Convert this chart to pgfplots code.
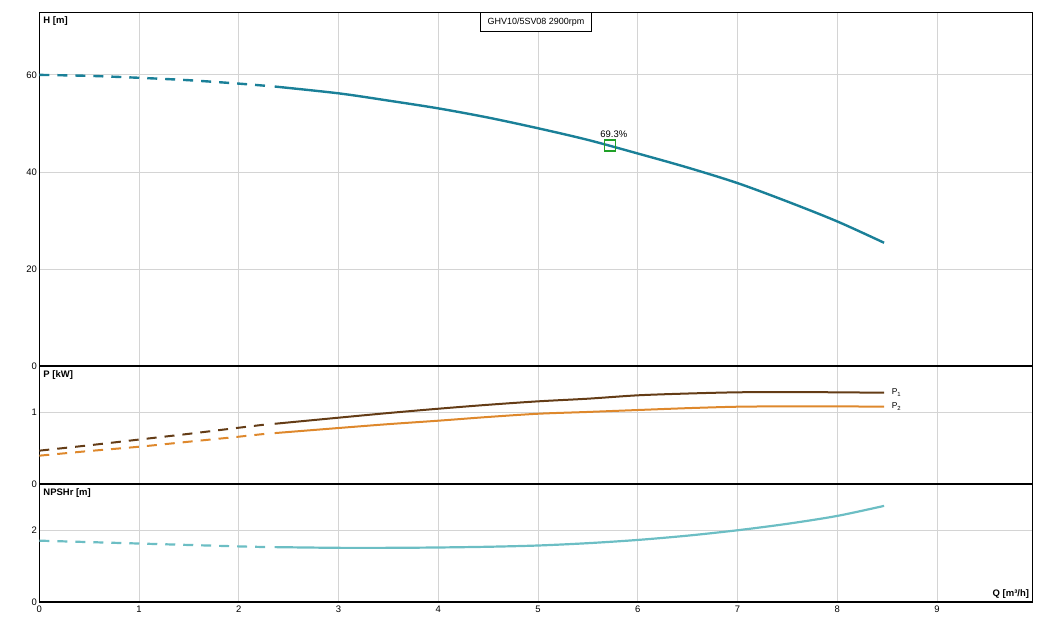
\documentclass[border=0pt]{standalone}
\usepackage{fontspec}
\setmainfont{Liberation Sans}
\usepackage{pgfplots}
\pgfplotsset{compat=1.18}
\definecolor{hcol}{RGB}{26,128,152}
\definecolor{p1col}{RGB}{100,60,22}
\definecolor{p2col}{RGB}{222,136,44}
\definecolor{ncol}{RGB}{108,190,196}
\definecolor{gcol}{RGB}{32,160,40}
\definecolor{gridc}{RGB}{212,212,212}
\pgfplotsset{
  panel/.style={
    scale only axis, width=993.4bp, xmin=0, xmax=9.96,
    xtick={0,...,9}, grid=major,
    major grid style={gridc, line width=0.8bp},
    axis line style={black, line width=1.1bp},
    major tick length=0pt,
    tick label style={font=\fontsize{9.5}{11}\selectfont, black},
    /pgf/number format/assume math mode=true,
    yticklabel style={inner sep=2.3bp},
    xticklabel style={inner sep=4bp},
  },
  dsh/.style={dash pattern=on 10bp off 8bp},
}
\newcommand{\ttl}[1]{\node[anchor=north west, inner sep=0pt, font=\bfseries\fontsize{9.5}{11}\selectfont] at (rel axis cs:0,1) [xshift=4bp, yshift=-4bp] {#1};}
\begin{document}
\begin{tikzpicture}
\useasboundingbox (-39.3bp,-25bp) rectangle (1009.7bp,602bp);
% bottom panel: NPSHr
\begin{axis}[panel, at={(0,0)}, anchor=south west, height=118bp,
  ymin=0, ymax=3.29, ytick={0,2}]
\addplot[ncol, line width=2.2bp, dsh, smooth] coordinates {
(0,1.71) (0.5,1.67) (1,1.63) (1.5,1.59) (2,1.55) (2.3,1.53)};
\addplot[ncol, line width=2.2bp, smooth] coordinates {
(2.36,1.53) (3,1.51) (3.5,1.51) (4,1.52) (4.5,1.54) (5,1.575) (5.5,1.64) (6,1.73) (6.5,1.85) (7,2.0) (7.5,2.18) (8,2.40) (8.47,2.68)};
\ttl{NPSHr [m]}
\node[anchor=south east, inner sep=0pt, font=\bfseries\fontsize{9.5}{11}\selectfont] at (rel axis cs:1,0) [xshift=-3.5bp, yshift=3bp] {Q [m³/h]};
\draw[black, line width=2.6bp] (rel axis cs:0,0) -- (rel axis cs:1,0);
\end{axis}
% middle panel: P
\begin{axis}[panel, at={(0,118bp)}, anchor=south west, height=118bp,
  ymin=0, ymax=1.646, ytick={0,1}, xticklabels={}]
\addplot[p1col, line width=2bp, dsh, smooth] coordinates {
(0,0.465) (0.5,0.54) (1,0.62) (1.5,0.70) (2,0.785) (2.3,0.835)};
\addplot[p1col, line width=2bp, smooth] coordinates {
(2.36,0.84) (3,0.925) (3.5,0.99) (4,1.05) (4.5,1.105) (5,1.153) (5.5,1.19) (6,1.237) (6.5,1.262) (7,1.279) (7.5,1.282) (8,1.279) (8.47,1.273)};
\addplot[p2col, line width=2bp, dsh, smooth] coordinates {
(0,0.395) (0.5,0.46) (1,0.52) (1.5,0.59) (2,0.66) (2.3,0.705)};
\addplot[p2col, line width=2bp, smooth] coordinates {
(2.36,0.71) (3,0.781) (3.5,0.835) (4,0.883) (4.5,0.935) (5,0.98) (5.5,1.005) (6,1.032) (6.5,1.058) (7,1.078) (7.5,1.083) (8,1.083) (8.47,1.078)};
\node[anchor=west, inner sep=0pt, font=\fontsize{8.5}{9}\selectfont] at (axis cs:8.47,1.273) [xshift=7.5bp] {P\textsubscript{1}};
\node[anchor=west, inner sep=0pt, font=\fontsize{8.5}{9}\selectfont] at (axis cs:8.47,1.078) [xshift=7.5bp] {P\textsubscript{2}};
\ttl{P [kW]}
\draw[black, line width=2.6bp] (rel axis cs:0,0) -- (rel axis cs:1,0);
\end{axis}
% top panel: H
\begin{axis}[panel, at={(0,236bp)}, anchor=south west, height=353.7bp,
  ymin=0, ymax=72.9, ytick={0,20,40,60}, xticklabels={}]
\addplot[hcol, line width=2.4bp, dsh, smooth] coordinates {
(0,60.0) (0.5,59.8) (1,59.4) (1.5,58.9) (2,58.2) (2.3,57.7)};
\addplot[hcol, line width=2.4bp, smooth] coordinates {
(2.36,57.6) (3,56.2) (3.5,54.7) (4,53.1) (4.5,51.2) (5,49.0) (5.5,46.6) (6,43.8) (6.5,40.9) (7,37.7) (7.5,33.9) (8,29.8) (8.47,25.4)};
\addplot[gcol, line width=1.6bp, only marks, mark=square, mark size=5.5bp] coordinates {(5.72,45.4)};
\node[anchor=south, inner sep=0pt, font=\fontsize{9.5}{11}\selectfont] at (axis cs:5.72,45.4) [xshift=4bp, yshift=8bp] {69.3\%};
\node[anchor=north, draw=black, line width=1bp, fill=white, inner xsep=7bp, minimum height=19bp, font=\fontsize{9}{10}\selectfont] at (rel axis cs:0.5,1) {GHV10/5SV08 2900rpm};
\ttl{H [m]}
\draw[black, line width=2.6bp] (rel axis cs:0,0) -- (rel axis cs:1,0);
\end{axis}
\end{tikzpicture}
\end{document}
